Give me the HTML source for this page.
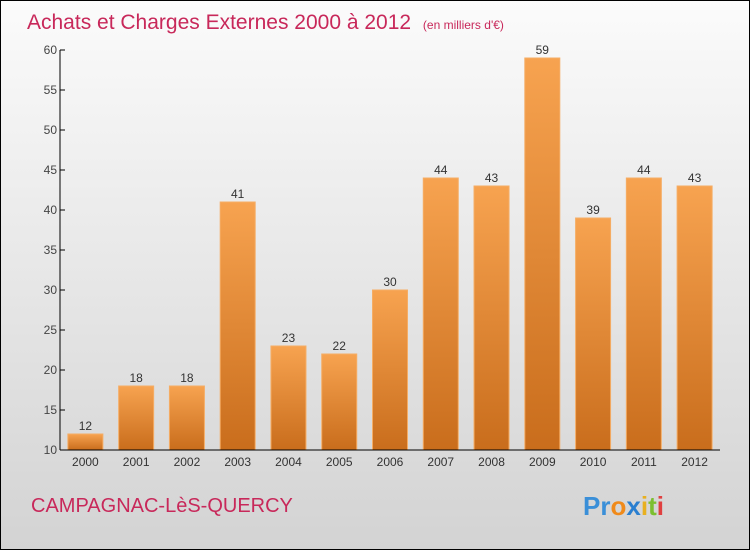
<!DOCTYPE html>
<html><head><meta charset="utf-8"><style>
html,body{margin:0;padding:0;}
body{width:750px;height:550px;overflow:hidden;font-family:"Liberation Sans",sans-serif;}
#wrap{position:relative;width:748px;height:548px;border:1px solid #000;background:linear-gradient(#fbfbfb,#d3d3d3);}
</style></head><body>
<div id="wrap">
<svg id="chart" width="748" height="548">
<defs>
<linearGradient id="bg" x1="0" y1="0" x2="0" y2="1"><stop offset="0" stop-color="#f7a350"/><stop offset="1" stop-color="#c96d1c"/></linearGradient>
</defs>
<text x="26" y="28" font-size="21" fill="#c8285a">Achats et Charges Externes 2000 à 2012 <tspan font-size="12" dx="6">(en milliers d'€)</tspan></text>
<text x="30" y="511" font-size="20" fill="#c8285a">CAMPAGNAC-LèS-QUERCY</text>
<text x="582" y="514" font-size="26" font-weight="bold"><tspan fill="#3a8fd8">Pr</tspan><tspan fill="#f08a1a">o</tspan><tspan fill="#2a7fd0">x</tspan><tspan fill="#e8b020">i</tspan><tspan fill="#7cbf30">t</tspan><tspan fill="#e04040">i</tspan></text>
<g id="plot"></g>
</svg>
</div>
<script>
const categories=["2000","2001","2002","2003","2004","2005","2006","2007","2008","2009","2010","2011","2012"];
const values=[12,18,18,41,23,22,30,44,43,59,39,44,43];
const yTicks=[10,15,20,25,30,35,40,45,50,55,60];
const NS="http://www.w3.org/2000/svg";
const x0=59,x1=719,yTop=49,yBot=449,yMin=10,yMax=60;
const band=(x1-x0)/categories.length;
function y(v){return yBot-(v-yMin)/(yMax-yMin)*(yBot-yTop);}
function xc(i){return x0+band*(i+0.5);}
const g=document.getElementById('plot');
function mk(t,a){const e=document.createElementNS(NS,t);for(const k in a)e.setAttribute(k,a[k]);g.appendChild(e);return e;}
values.forEach((v,i)=>{
 const r=mk('rect',{x:xc(i)-17.5,y:y(v),width:35,height:yBot-y(v),fill:'url(#bg)',stroke:'#f5ad65','stroke-width':1});
 
 
 const t=mk('text',{x:xc(i),y:y(v)-4,'font-size':12,fill:'#333','text-anchor':'middle'});
 t.textContent=v;
 
 
 const c=mk('text',{x:xc(i),y:yBot+16,'font-size':12,fill:'#333','text-anchor':'middle'});
 c.textContent=categories[i];
 
 
});
yTicks.forEach(v=>{
 const l=mk('line',{x1:x0,x2:x0+5,y1:y(v),y2:y(v),stroke:'#000'});
 
 
 const t=mk('text',{x:x0-3,y:y(v)+4,'font-size':12,fill:'#444','text-anchor':'end'});
 t.textContent=v;
 
 
});
const ya=mk('line',{x1:x0,x2:x0,y1:yTop,y2:yBot,stroke:'#000'});


const xa=mk('line',{x1:x0,x2:x1,y1:yBot,y2:yBot,stroke:'#000'});


</script>
</body></html>
